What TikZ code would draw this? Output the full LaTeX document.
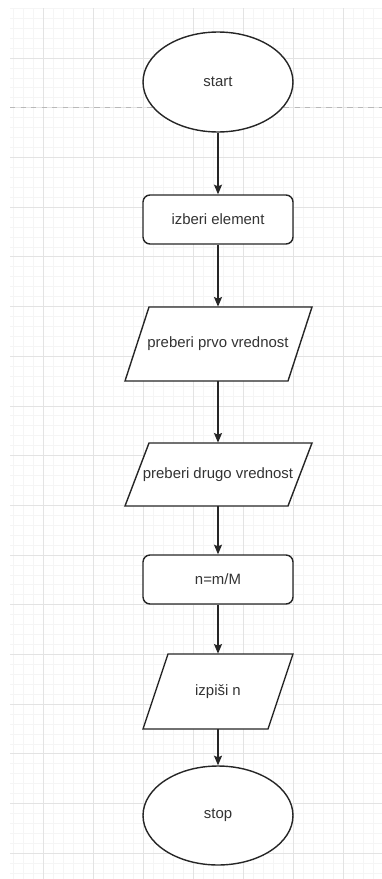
\documentclass[tikz,border=0pt]{standalone}
\usepackage{fontspec}
\setmainfont{Liberation Sans}
\usetikzlibrary{arrows.meta, shapes.geometric}

\begin{document}
\begin{tikzpicture}[x=0.02cm, y=-0.02cm,
    every node/.style={font=\fontsize{8.5}{10}\selectfont, text=black!80},
    term/.style={ellipse, draw=black!85, thick, fill=white, minimum width=3cm, minimum height=2cm, inner sep=0pt},
    proc/.style={rectangle, rounded corners=0.14cm, draw=black!85, thick, fill=white, minimum width=3cm, minimum height=0.98cm},
    iobox/.style={draw=black!85, thick, fill=white, line join=miter},
    io/.style={rectangle, inner sep=0pt, minimum width=3cm},
    arrow/.style={thick, draw=black!85, -{Stealth[length=5.5pt, width=4.6pt, inset=1pt]}}]
    \useasboundingbox (0,0) rectangle (382,879);
    % Grid
    \foreach \x in {13,23,...,373} \draw[gray!8] (\x,8.3) -- (\x,879);
    \foreach \k in {0,...,87} \draw[gray!8] (10,{8.3+9.94*\k}) -- (382,{8.3+9.94*\k});
    \foreach \x in {43,93,...,343} \draw[gray!22] (\x,8.3) -- (\x,879);
    \foreach \k in {0,...,16} \draw[gray!22] (10,{58+49.7*\k}) -- (382,{58+49.7*\k});
    % Page break
    \draw[gray!55, dashed] (10,107.5) -- (382,107.5);

    % Parallelograms (input / output)
    \filldraw[iobox] (125,381) -- (149,307) -- (312,307) -- (288,381) -- cycle;
    \filldraw[iobox] (125,506) -- (149,443) -- (312,443) -- (288,506) -- cycle;
    \filldraw[iobox] (143,729) -- (168,654) -- (293,654) -- (268,729) -- cycle;

    % Steps
    \node[term] (start) at (218,82) {start};
    \node[proc] (izberi) at (218,219.5) {izberi element};
    \node[io, minimum height=1.48cm] (prvo) at (218,344) {preberi prvo vrednost};
    \node[io, minimum height=1.26cm] (drugo) at (218,474.5) {preberi drugo vrednost};
    \node[proc] (racun) at (218,579.5) {n=m/M};
    \node[io, minimum height=1.5cm] (izpis) at (218,691.5) {izpiši n};
    \node[term, minimum height=1.98cm] (stop) at (218,815.5) {stop};

    % Arrows
    \draw[arrow] (start) -- (izberi);
    \draw[arrow] (izberi) -- (prvo);
    \draw[arrow] (prvo) -- (drugo);
    \draw[arrow] (drugo) -- (racun);
    \draw[arrow] (racun) -- (izpis);
    \draw[arrow] (izpis) -- (stop);
\end{tikzpicture}
\end{document}
